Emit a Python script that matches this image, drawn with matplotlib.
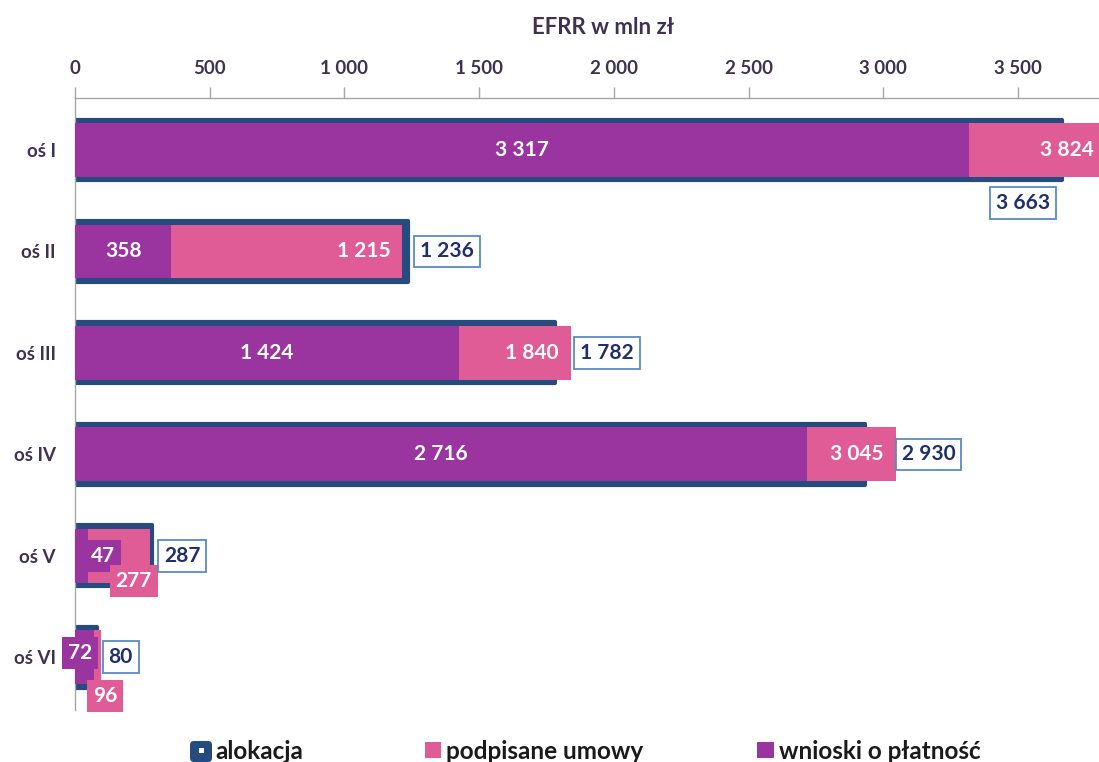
import matplotlib
matplotlib.use('Agg')
import matplotlib.pyplot as plt
from matplotlib.patches import FancyBboxPatch, Rectangle
from matplotlib.transforms import IdentityTransform

# ---- data ----
categories = ['oś I', 'oś II', 'oś III', 'oś IV', 'oś V', 'oś VI']
alokacja = [3663, 1236, 1782, 2930, 287, 80]
umowy = [3824, 1215, 1840, 3045, 277, 96]
wnioski = [3317, 358, 1424, 2716, 47, 72]
legend_labels = ['alokacja', 'podpisane umowy', 'wnioski o płatność']
xticks = [0, 500, 1000, 1500, 2000, 2500, 3000, 3500]
title = 'EFRR w mln zł'

# ---- style ----
DARK = '#264B7F'
PINK = '#E05C97'
PURPLE = '#9A35A0'
TXT = '#3F3151'
NAVY = '#1F2F6E'
BOXEDGE = '#5A8AC6'
GRAY = '#A6A6A6'
plt.rcParams['font.family'] = ['Lato', 'DejaVu Sans']

W, H = 1099, 762
fig = plt.figure(figsize=(W / 100, H / 100), dpi=100)
ax = fig.add_axes([75 / W, (H - 710) / H, 1 - 75 / W, (710 - 98) / H])
XMAX = 3800
ax.set_xlim(0, XMAX)
ax.set_ylim(5.52, -0.513)

y = list(range(len(categories)))
ax.barh(y, alokacja, height=0.60, color=DARK, edgecolor=DARK, linewidth=3,
        joinstyle='round', zorder=1)
ax.barh(y, umowy, height=0.53, color=PINK, zorder=2)
ax.barh(y, wnioski, height=0.53, color=PURPLE, zorder=3)


def fmt(v):
    return f'{v:,}'.replace(',', ' ')


lab_kw = dict(fontsize=15, fontweight='bold', textcoords='offset pixels',
              annotation_clip=False, zorder=6)

# label placement offsets (pixels)
wn_off = [None, None, None, None, (15, 0), (-14, 4)]
um_off = [None, None, None, None, (-16, -25), (4, -39)]
al_off = [(-39, -53), (39, 0), (52, 0), (64, 0), (30, 0), (24, 0)]

for i in y:
    v = wnioski[i]
    if wn_off[i] is None:
        ax.annotate(fmt(v), xy=(v / 2, i), xytext=(0, 0), ha='center', va='center',
                    color='white', **lab_kw)
    else:
        ax.annotate(fmt(v), xy=(v, i), xytext=wn_off[i], ha='center', va='center',
                    color='white',
                    bbox=dict(boxstyle='square,pad=0.28', fc=PURPLE, ec='none'), **lab_kw)
    v = umowy[i]
    if um_off[i] is None:
        ax.annotate(fmt(v), xy=(v, i), xytext=(-12, 0), ha='right', va='center',
                    color='white', **lab_kw)
    else:
        ax.annotate(fmt(v), xy=(v, i), xytext=um_off[i], ha='center', va='center',
                    color='white',
                    bbox=dict(boxstyle='square,pad=0.28', fc=PINK, ec='none'), **lab_kw)
    v = alokacja[i]
    ax.annotate(fmt(v), xy=(v, i), xytext=al_off[i], ha='center', va='center',
                color=NAVY,
                bbox=dict(boxstyle='square,pad=0.28', fc='white', ec=BOXEDGE, lw=1.3),
                **lab_kw)

# axes styling
ax.xaxis.tick_top()
ax.set_xticks(xticks)
ax.set_xticklabels([fmt(t) for t in xticks], fontweight='bold')
ax.tick_params(axis='x', direction='out', length=8, color=GRAY, width=1,
               labelsize=13.5, labelcolor=TXT, pad=7)
ax.set_yticks(y)
ax.set_yticklabels(categories, fontweight='bold')
ax.tick_params(axis='y', length=0, labelsize=13.5, labelcolor=TXT, pad=14)
for s in ['right', 'bottom']:
    ax.spines[s].set_visible(False)
for s in ['top', 'left']:
    ax.spines[s].set_color(GRAY)
    ax.spines[s].set_linewidth(1)

fig.text(603 / W, 1 - 28 / H, title, ha='center', va='center', fontsize=16,
         fontweight='bold', color=TXT)

# legend (manual, partly cut at the bottom like the reference)
idt = IdentityTransform()
fig.add_artist(FancyBboxPatch((192, 2), 18, 17, boxstyle='round,pad=2,rounding_size=4',
                              fc=DARK, ec='none', transform=idt))
fig.add_artist(Rectangle((199, 9), 5, 5, fc='white', ec='none', transform=idt))
fig.add_artist(Rectangle((425, 4), 16, 16, fc=PINK, ec='none', transform=idt))
fig.add_artist(Rectangle((757, 4), 17, 16, fc=PURPLE, ec='none', transform=idt))
for xpx, lab in zip([215, 446, 779], legend_labels):
    fig.text(xpx / W, 3 / H, lab, ha='left', va='baseline', fontsize=17.5,
             fontweight='bold', color='#1A1A1A')

fig.savefig('out.png', dpi=100)
